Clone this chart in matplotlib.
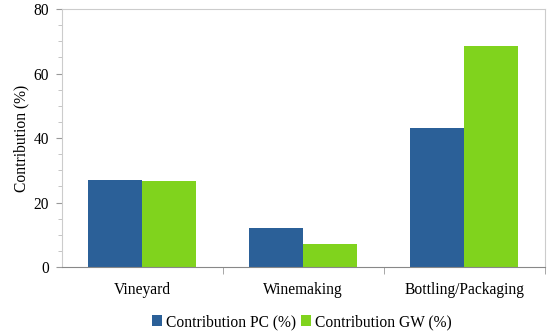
import matplotlib.pyplot as plt
import numpy as np
from matplotlib.ticker import MultipleLocator, FixedLocator

plt.rcParams['font.family'] = 'serif'
plt.rcParams['font.serif'] = ['Liberation Serif', 'DejaVu Serif']

categories = ['Vineyard', 'Winemaking', 'Bottling/Packaging']
pc_values = [27.0, 12.2, 43.1]
gw_values = [26.8, 7.3, 68.5]

fig, ax = plt.subplots(figsize=(5.5, 3.33), dpi=100)
fig.subplots_adjust(left=0.112, right=0.99, top=0.973, bottom=0.198)

x = np.arange(len(categories))
w = 0.335
ax.bar(x - w / 2, pc_values, w, color='#2B6098', label='Contribution PC (%)')
ax.bar(x + w / 2, gw_values, w, color='#80D31D', label='Contribution GW (%)')

fs = 11.2
ax.set_xlim(-0.5, 2.5)
ax.set_ylim(0, 80)
ax.set_xticks(x)
ax.set_xticklabels(categories, fontsize=fs)
ax.xaxis.set_minor_locator(FixedLocator([0.5, 1.5, 2.5]))
ax.tick_params(axis='x', which='major', length=0, pad=11)
ax.tick_params(axis='x', which='minor', length=5, color='#999999')
ax.yaxis.set_major_locator(MultipleLocator(20))
ax.yaxis.set_minor_locator(MultipleLocator(5))
ax.tick_params(axis='y', which='major', labelsize=fs, length=4, color='#999999', pad=5)
ax.tick_params(axis='y', which='minor', length=3, color='#bbbbbb')
ax.set_ylabel('Contribution (%)', fontsize=fs, labelpad=3)

for s in ['top', 'right', 'left']:
    ax.spines[s].set_color('#cccccc')
ax.spines['bottom'].set_color('#888888')

ax.legend(loc='upper center', bbox_to_anchor=(0.497, -0.128), ncol=2, frameon=False,
          fontsize=fs, handlelength=0.65, handleheight=0.65, handletextpad=0.25,
          columnspacing=0.3)

plt.savefig('out.png')
